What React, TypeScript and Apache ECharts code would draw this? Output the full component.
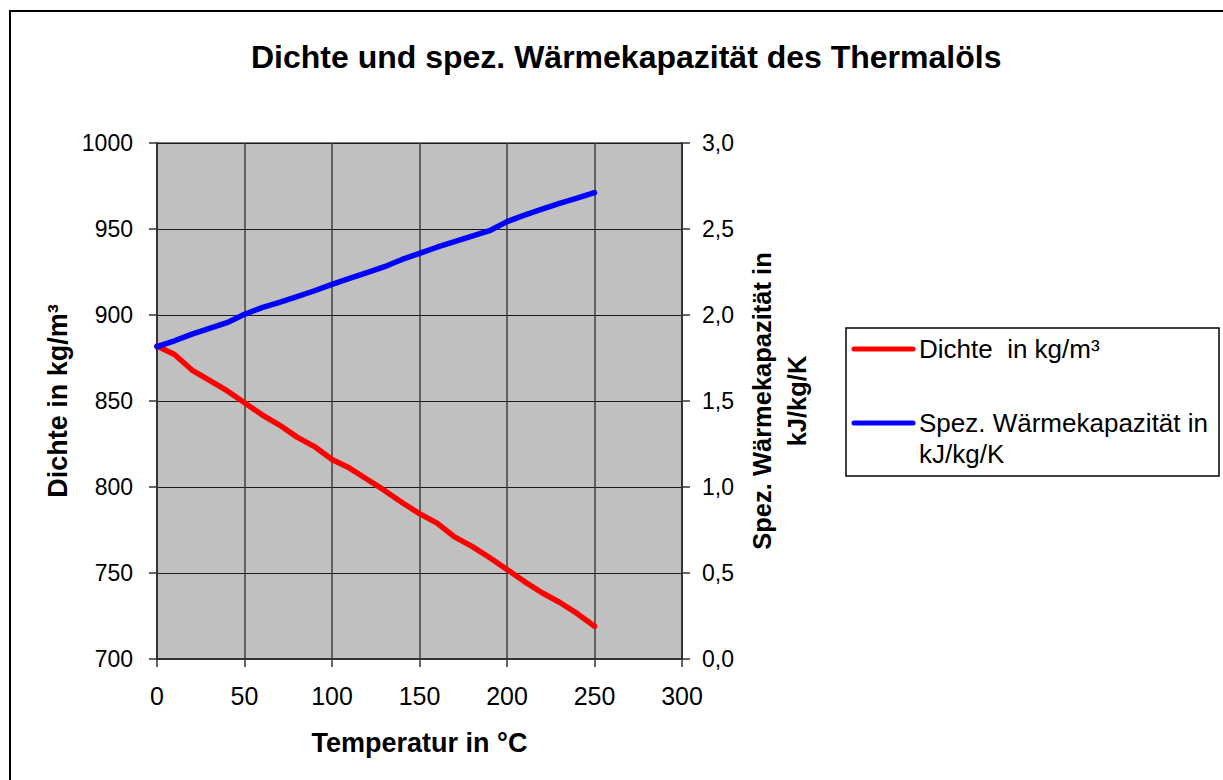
import React, { useEffect, useRef } from "react";
import * as echarts from "echarts";

const TITLE = "Dichte und spez. Wärmekapazität des Thermalöls";
const X_NAME = "Temperatur in °C";
const Y_LEFT_NAME = "Dichte in kg/m³";
const Y_RIGHT_NAME = "Spez. Wärmekapazität in\nkJ/kg/K";
const SERIES_DENSITY = "Dichte  in kg/m³";
const SERIES_CP = "Spez. Wärmekapazität in\nkJ/kg/K";

const temperatures = [0, 10, 20, 30, 40, 50, 60, 70, 80, 90, 100, 110, 120, 130, 140, 150, 160, 170, 180, 190, 200, 210, 220, 230, 240, 250];
const density = [882, 877, 868, 862, 856, 849, 842, 836, 829, 823.5, 816, 811, 804.5, 798, 791, 784.5, 779, 771, 765.5, 759, 752, 745, 738.5, 733, 726.5, 719];
const heatCapacity = [1.816, 1.85, 1.889, 1.922, 1.955, 2.004, 2.043, 2.074, 2.107, 2.141, 2.178, 2.213, 2.246, 2.281, 2.323, 2.358, 2.394, 2.426, 2.459, 2.49, 2.543, 2.581, 2.616, 2.649, 2.679, 2.711];

const FONT = "'Liberation Sans', Arial, sans-serif";

export default function App() {
  const ref = useRef<HTMLDivElement>(null);
  useEffect(() => {
    if (!ref.current) return;
    const chart = echarts.init(ref.current, undefined, { renderer: "svg" });
    const legendX = 846;
    const legendY = 328;
    chart.setOption({
      animation: false,
      backgroundColor: "#ffffff",
      textStyle: { fontFamily: FONT },
      title: {
        text: TITLE,
        left: 246,
        top: 36,
        textStyle: { fontFamily: FONT, fontSize: 32, fontWeight: "bold", color: "#000" },
      },
      grid: {
        left: 157,
        top: 143,
        right: 541,
        bottom: 121,
        show: true,
        backgroundColor: "#c0c0c0",
        borderColor: "#808080",
        borderWidth: 2,
      },
      xAxis: {
        type: "value",
        min: 0,
        max: 300,
        interval: 50,
        name: X_NAME,
        nameLocation: "middle",
        nameGap: 70,
        nameTextStyle: { fontFamily: FONT, fontSize: 27, fontWeight: "bold", color: "#000" },
        axisLine: { show: true, onZero: false, lineStyle: { color: "#333", width: 2 } },
        axisTick: { show: true, length: 8, lineStyle: { color: "#333", width: 1.5 } },
        axisLabel: { fontFamily: FONT, fontSize: 25, color: "#000", margin: 24 },
        splitLine: { show: true, lineStyle: { color: "#404040", width: 1.5 } },
      },
      yAxis: [
        {
          type: "value",
          min: 700,
          max: 1000,
          interval: 50,
          position: "left",
          name: Y_LEFT_NAME,
          nameLocation: "middle",
          nameRotate: 90,
          nameGap: 86,
          nameTextStyle: { fontFamily: FONT, fontSize: 27, fontWeight: "bold", color: "#000" },
          axisLine: { show: true, lineStyle: { color: "#333", width: 2 } },
          axisTick: { show: true, length: 8, lineStyle: { color: "#333", width: 1.5 } },
          axisLabel: {
            fontFamily: FONT,
            fontSize: 23,
            color: "#000",
            margin: 24,
            formatter: (v: number) => String(Math.round(v)),
          },
          splitLine: { show: true, lineStyle: { color: "#1a1a1a", width: 1.2 } },
        },
        {
          type: "value",
          min: 0,
          max: 3,
          interval: 0.5,
          position: "right",
          name: Y_RIGHT_NAME,
          nameLocation: "middle",
          nameRotate: 90,
          nameGap: 62,
          nameTextStyle: { fontFamily: FONT, fontSize: 25.5, fontWeight: "bold", color: "#000", lineHeight: 35 },
          axisLine: { show: true, lineStyle: { color: "#333", width: 2 } },
          axisTick: { show: true, length: 8, lineStyle: { color: "#333", width: 1.5 } },
          axisLabel: {
            fontFamily: FONT,
            fontSize: 23,
            color: "#000",
            margin: 20,
            formatter: (v: number) => v.toFixed(1).replace(".", ","),
          },
          splitLine: { show: false },
        },
      ],
      series: [
        {
          name: SERIES_DENSITY,
          type: "line",
          yAxisIndex: 0,
          data: temperatures.map((t, i) => [t, density[i]]),
          showSymbol: false,
          symbol: "none",
          lineStyle: { color: "#ff0000", width: 5.5, cap: "round", join: "round" },
          itemStyle: { color: "#ff0000" },
        },
        {
          name: SERIES_CP,
          type: "line",
          yAxisIndex: 1,
          data: temperatures.map((t, i) => [t, heatCapacity[i]]),
          showSymbol: false,
          symbol: "none",
          lineStyle: { color: "#0000ff", width: 5.5, cap: "round", join: "round" },
          itemStyle: { color: "#0000ff" },
        },
      ],
      graphic: [
        {
          type: "rect",
          shape: { x: 10, y: 11, width: 1230, height: 790 },
          style: { fill: "none", stroke: "#000", lineWidth: 2 },
          silent: true,
          z: -1,
        },
        {
          type: "rect",
          shape: { x: legendX, y: legendY, width: 373, height: 148 },
          style: { fill: "#fff", stroke: "#000", lineWidth: 1.5 },
        },
        {
          type: "line",
          shape: { x1: legendX + 8, y1: 349, x2: legendX + 67, y2: 349 },
          style: { stroke: "#ff0000", lineWidth: 5, lineCap: "round" },
        },
        {
          type: "text",
          x: legendX + 73,
          y: 349,
          style: { text: SERIES_DENSITY, font: `26px ${FONT}`, fill: "#000", verticalAlign: "middle", align: "left" },
        },
        {
          type: "line",
          shape: { x1: legendX + 8, y1: 423, x2: legendX + 67, y2: 423 },
          style: { stroke: "#0000ff", lineWidth: 5, lineCap: "round" },
        },
        {
          type: "text",
          x: legendX + 73,
          y: 423,
          style: { text: "Spez. Wärmekapazität in", font: `26px ${FONT}`, fill: "#000", verticalAlign: "middle", align: "left" },
        },
        {
          type: "text",
          x: legendX + 73,
          y: 454,
          style: { text: "kJ/kg/K", font: `26px ${FONT}`, fill: "#000", verticalAlign: "middle", align: "left" },
        },
      ],
    });
    return () => chart.dispose();
  }, []);
  return (
    <div
      ref={ref}
      style={{ position: "fixed", left: 0, top: 0, width: 1223, height: 780, background: "#fff" }}
    />
  );
}
